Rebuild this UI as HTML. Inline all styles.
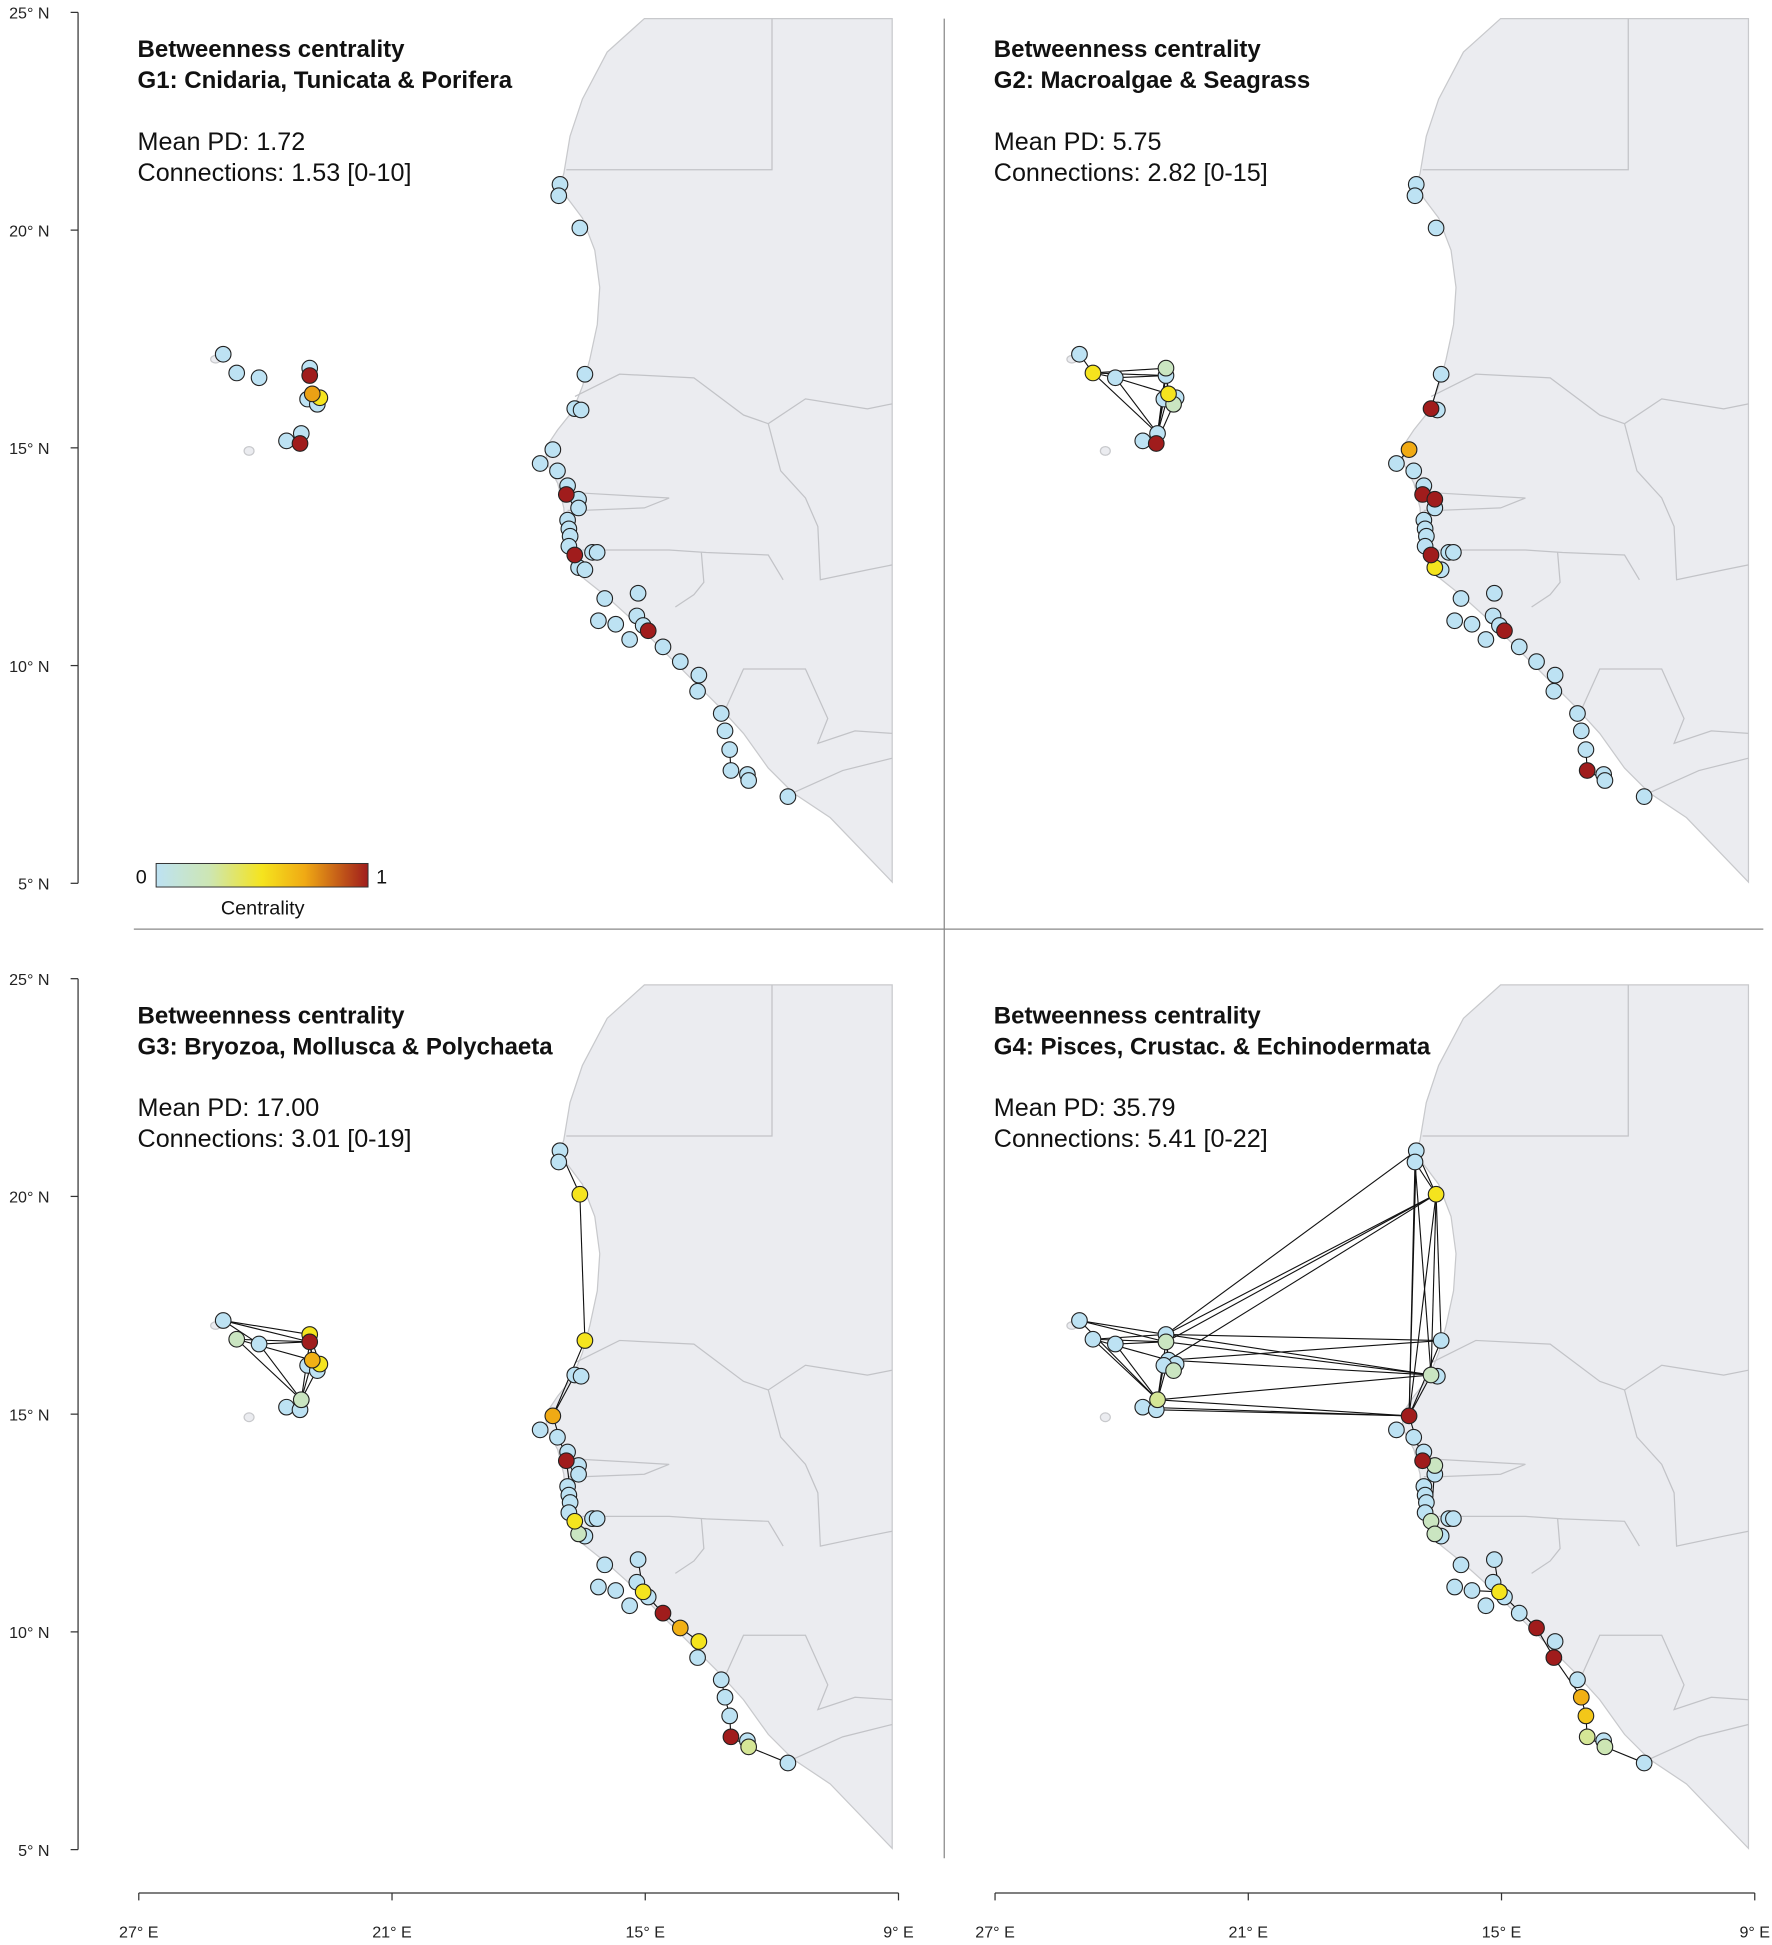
<!DOCTYPE html>
<html><head><meta charset="utf-8"><style>
html,body{margin:0;padding:0;background:#fff;}
svg{display:block;font-family:"Liberation Sans",Arial,sans-serif;}
</style></head><body>
<svg id="chart" width="1772" height="1945" viewBox="0 0 1430 1570" preserveAspectRatio="none" xmlns="http://www.w3.org/2000/svg"></svg>
<script>
// ---- data ----
const siteLonW = [25.0,24.68,24.15,22.95,22.95,22.89,22.71,23.0,22.77,23.15,23.5,23.18,
17.02,17.05,16.55,16.43,16.67,16.52,17.19,17.49,17.08,16.84,16.87,16.58,16.58,16.84,16.81,16.78,16.81,16.67,16.25,16.14,16.58,16.43,15.96,15.17,16.11,15.70,15.37,15.20,15.05,14.93,14.58,14.17,13.73,13.76,13.20,13.11,13.0,12.97,12.58,12.55,11.62];
const siteLat = [17.15,16.72,16.61,16.83,16.66,16.24,16.15,16.12,16.0,15.33,15.16,15.10,
21.05,20.79,20.05,16.69,15.90,15.87,14.96,14.64,14.47,14.13,13.93,13.82,13.62,13.34,13.14,12.97,12.74,12.54,12.60,12.60,12.25,12.20,11.54,11.66,11.03,10.95,10.60,11.14,10.92,10.80,10.43,10.09,9.78,9.41,8.90,8.50,8.07,7.59,7.50,7.36,6.99];
// centrality per panel: [siteIndex(1-based), value]
const cent1 = [[5,1],[12,1],[23,1],[30,1],[42,1],[6,0.72],[7,0.5]];
const cent2 = [[17,1],[23,1],[24,1],[30,1],[42,1],[50,1],[12,1],[2,0.5],[6,0.5],[33,0.5],[19,0.7],[4,0.2],[9,0.2]];
const cent3 = [[15,0.5],[16,0.5],[19,0.7],[23,1],[30,0.5],[33,0.2],[41,0.5],[43,1],[44,0.68],[45,0.5],[50,1],[52,0.3],[5,1],[4,0.5],[6,0.68],[7,0.5],[2,0.2],[10,0.2]];
const cent4 = [[15,0.5],[17,0.2],[19,1],[23,1],[24,0.2],[30,0.2],[33,0.2],[41,0.5],[44,1],[46,1],[48,0.68],[49,0.6],[50,0.3],[52,0.25],[10,0.3],[5,0.2],[9,0.2]];
const edges1 = [[49,50],[41,42]];
const edges2 = [[1,2],[2,3],[2,4],[2,5],[2,10],[3,5],[3,10],[4,6],[5,6],[5,10],[6,10],[8,10],[9,12],[4,10],[3,6],[16,17],[17,18],[19,20],[22,23],[23,24],[24,25],[30,33],[29,30],[41,42],[49,50],[50,52],[13,14]];
const edges3 = [[13,15],[15,16],[16,19],[1,4],[1,5],[2,5],[2,6],[3,5],[3,10],[2,10],[4,6],[5,6],[5,10],[6,10],[7,10],[1,3],[4,7],[19,23],[23,30],[30,33],[41,43],[43,44],[44,45],[45,46],[50,52],[52,53],[47,48],[48,49],[49,50],[36,41],[17,19]];
const edges4 = [[1,4],[1,5],[2,4],[2,5],[2,6],[3,5],[3,10],[2,10],[1,10],[4,6],[5,6],[5,10],[6,10],[8,10],[11,12],[4,13],[4,15],[5,15],[6,15],[4,16],[5,17],[4,17],[6,17],[10,17],[10,19],[12,19],[11,19],[6,16],[13,15],[14,15],[15,16],[15,17],[15,19],[16,19],[17,19],[13,19],[14,17],[14,19],[19,23],[23,24],[24,30],[30,33],[38,41],[41,44],[44,46],[46,48],[48,49],[49,50],[50,52],[52,53],[36,41]];
const titles = ["G1: Cnidaria, Tunicata & Porifera","G2: Macroalgae & Seagrass","G3: Bryozoa, Mollusca & Polychaeta","G4: Pisces, Crustac. & Echinodermata"];
const meanPD = ["1.72","5.75","17.00","35.79"];
const conns = ["1.53 [0-10]","2.82 [0-15]","3.01 [0-19]","5.41 [0-22]"];
const latTicks = [25,20,15,10,5];
const lonTicks = [27,21,15,9];

const NS="http://www.w3.org/2000/svg";
const svg=document.getElementById('chart');
function el(t,a,p){const e=document.createElementNS(NS,t);for(const k in a)e.setAttribute(k,a[k]);(p||svg).appendChild(e);return e;}
function color(v){
  const stops=[[0,[189,226,243]],[0.25,[205,230,180]],[0.5,[245,228,30]],[0.7,[240,170,20]],[1,[160,28,28]]];
  for(let i=1;i<stops.length;i++){if(v<=stops[i][0]){const a=stops[i-1],b=stops[i];const t=(v-a[0])/(b[0]-a[0]);
  return 'rgb('+a[1].map((c,j)=>Math.round(c+(b[1][j]-c)*t)).join(',')+')';}}
  return 'rgb(160,28,28)';
}
const coast=[[520,15],[720,15],[720,712],[670,660],[640,640],[620,620],[600,592],[580,570],[555,545],[530,520],[510,500],[490,482],[470,466],[462,450],[456,430],[455,410],[450,390],[442,375],[440,362],[450,347],[462,332],[470,312],[476,290],[482,262],[484,232],[480,202],[470,176],[458,160],[452,150],[455,140],[460,110],[470,80],[490,42]];
const borders=[
 [[457,137],[623,137],[623,15]],
 [[464,320],[500,302],[560,305],[600,335],[620,342],[650,322],[700,330],[720,326]],
 [[620,342],[630,380],[650,402],[660,425],[662,468],[700,460],[720,456]],
 [[455,395],[470,398],[540,402],[520,410],[470,412],[458,412]],
 [[470,444],[540,444],[570,446],[620,448],[632,468]],
 [[566,446],[568,470],[560,480],[545,490]],
 [[582,580],[600,540],[650,540],[668,580],[660,600],[690,590],[720,592]],
 [[640,640],[680,622],[720,612]]
];
const cents=[cent1,cent2,cent3,cent4], edgesAll=[edges1,edges2,edges3,edges4];
const panels=[[0,0],[691,0],[0,780],[691,780]];

panels.forEach((off,pi)=>{
  const [dx,dy]=off;
  const g=el('g',{transform:`translate(${dx},${dy})`});
  
  
  const land=el('polygon',{points:coast.map(p=>p.join(',')).join(' '),fill:'#ebecf0',stroke:'#c8c9cc','stroke-width':1},g);
  
  
  borders.forEach(b=>{const l=el('polyline',{points:b.map(p=>p.join(',')).join(' '),fill:'none',stroke:'#c2c3c7','stroke-width':1},g);
    });
  el('ellipse',{cx:201,cy:364,rx:4,ry:3.5,fill:'#ebecf0',stroke:'#c8c9cc'},g);
  el('ellipse',{cx:174,cy:290,rx:4,ry:3,fill:'#ebecf0',stroke:'#c8c9cc'},g);
  const X=lon=>112+(27-lon)*34.06, Y=lat=>10+(25-lat)*35.15;
  const vals=new Array(siteLat.length).fill(0);
  cents[pi].forEach(([i,v])=>vals[i-1]=v);
  edgesAll[pi].forEach(([a,b])=>{const l=el('line',{x1:X(siteLonW[a-1]),y1:Y(siteLat[a-1]),x2:X(siteLonW[b-1]),y2:Y(siteLat[b-1]),stroke:'#111','stroke-width':0.9},g);
    });
  const order=siteLat.map((_,i)=>i).sort((a,b)=>vals[a]-vals[b]);
  order.forEach(i=>{const c=el('circle',{cx:X(siteLonW[i]),cy:Y(siteLat[i]),r:6.3,fill:color(vals[i]),stroke:'#222','stroke-width':0.9},g);
    });
  const tx=111;
  const t1=el('text',{x:tx,y:46,'font-size':19.4,fill:'#111','font-weight':'bold'},g);t1.textContent='Betweenness centrality';
  
  const t2=el('text',{x:tx,y:71,'font-size':19.4,fill:'#111','font-weight':'bold'},g);t2.textContent=titles[pi];
  
  const t3=el('text',{x:tx,y:121,'font-size':20.3,fill:'#111'},g);t3.textContent='Mean PD: '+meanPD[pi];
  
  const t4=el('text',{x:tx,y:146,'font-size':20.3,fill:'#111'},g);t4.textContent='Connections: '+conns[pi];
  
  if(dx===0){
    const ax=el('line',{x1:63,y1:Y(25),x2:63,y2:Y(5),stroke:'#333'},g);
    
    latTicks.forEach(t=>{el('line',{x1:57,x2:63,y1:Y(t),y2:Y(t),stroke:'#333'},g);
      const tt=el('text',{x:40,y:Y(t)+5,'font-size':13,'text-anchor':'end',fill:'#222'},g);tt.textContent=t+'° N';
      });
  }
  if(dy>0){
    const ax=el('line',{x1:X(27),x2:X(9),y1:748,y2:748,stroke:'#333'},g);
    
    lonTicks.forEach(t=>{el('line',{x1:X(t),x2:X(t),y1:748,y2:754,stroke:'#333'},g);
      const tt=el('text',{x:X(t),y:784,'font-size':13,'text-anchor':'middle',fill:'#222'},g);tt.textContent=t+'° E';
      });
  }
});
el('line',{x1:108,x2:1423,y1:750,y2:750,stroke:'#888'});
el('line',{x1:762,x2:762,y1:15,y2:1500,stroke:'#888'});
const defs=el('defs',{});
const lg=el('linearGradient',{id:'cg',x1:0,x2:1,y1:0,y2:0},defs);
[0,0.25,0.5,0.7,1].forEach(o=>el('stop',{offset:o,'stop-color':color(o)},lg));
const lb=el('rect',{x:126,y:697,width:171,height:19,fill:'url(#cg)',stroke:'#333','stroke-width':0.8});

const l0=el('text',{x:114,y:713,'font-size':16,'text-anchor':'middle',fill:'#111'});l0.textContent='0';

const l1=el('text',{x:308,y:713,'font-size':16,'text-anchor':'middle',fill:'#111'});l1.textContent='1';

const lt=el('text',{x:212,y:738,'font-size':16,'text-anchor':'middle',fill:'#111'});lt.textContent='Centrality';

</script>
</body></html>
